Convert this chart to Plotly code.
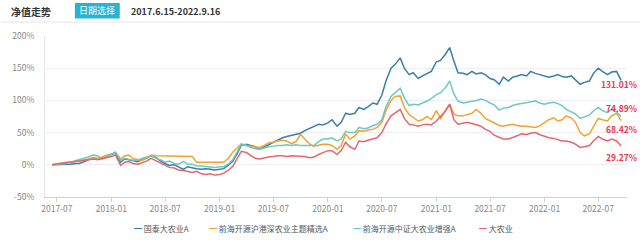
import pandas as pd
import plotly.graph_objects as go

# ---------------- data ----------------
series_names = ["国泰大农业A", "前海开源沪港深农业主题精选A", "前海开源中证大农业增强A", "大农业"]
end_labels = ["131.01%", "68.42%", "74.89%", "29.27%"]

# semi-monthly observation dates (1st & 15th), 2017-06-15 .. 2022-09-16
dates = list(pd.date_range("2017-06-15", "2022-09-15", freq="SMS").strftime("%Y-%m-%d"))
dates[-1] = "2022-09-16"

guotai = [
    0, 0, 0.5, 1, 1, 2, 2, 5, 8, 11, 9, 11, 14,
    16, 18, 4, 9, 8, 7, 5, 9, 12, 14, 11, 6, 2, -1, 0, -3, -7, -3, -5, -6, -7, -6, -7, -8,
    -7, -6, 0, 6, 17, 30, 32, 30, 28, 24, 28, 32, 36, 39, 42, 44, 46, 47, 49, 53, 57, 59, 63, 62,
    65, 70, 60, 66, 80, 78, 80, 89, 86, 90, 96, 94, 108, 130, 150, 156, 166, 150, 140, 143, 134, 138, 142, 145,
    160, 162, 172, 182, 161, 143, 142, 140, 145, 141, 143, 140, 134, 132, 125, 136, 130, 136, 138, 140, 138, 145, 142, 140,
    138, 136, 138, 140, 137, 136, 138, 132, 125, 128, 130, 142, 150, 145, 140, 144, 145, 131.01,
]
qianhai_hgs = [
    0, 2, 3, 4, 4, 5, 6, 7, 9, 11, 10, 12, 14,
    16, 19, 9, 14, 15, 10, 8, 7, 10, 15, 14, 14, 14, 14, 14, 14, 14, 13, 13, 4, 4, 3, 4, 3,
    3, 4, 11, 20, 26, 32, 30, 29, 29, 27, 30, 34, 35, 37, 38, 37, 33, 36, 47, 40, 32, 29, 31, 32,
    32, 30, 24, 30, 48, 40, 45, 53, 52, 54, 55, 58, 66, 84, 100, 106, 107, 89, 78, 74, 68, 70, 75, 70,
    84, 72, 85, 94, 79, 76, 76, 78, 80, 86, 80, 72, 68, 65, 61, 60, 62, 63, 61, 60, 60, 59, 58, 60,
    66, 70, 73, 68, 70, 76, 73, 66, 50, 45, 48, 60, 72, 70, 68, 76, 80, 68.42,
]
qianhai_zz = [
    0, 0.5, 1, 2, 4, 6, 8, 10, 12, 15, 14, 9, 12,
    16, 20, 7, 10, 9, 7, 8, 10, 12, 14, 10, 8, 4, 6, 2, 1, 5, 1, 1, -2, -2, -3, -3, -4,
    -3, -3, 2, 8, 20, 32, 30, 27, 25, 24, 26, 28, 29, 30, 30, 31, 30, 31, 30, 30, 31, 30, 36, 40,
    40, 42, 37, 40, 52, 50, 50, 58, 56, 57, 61, 63, 70, 90, 106, 112, 119, 104, 92, 94, 93, 96, 99, 103,
    109, 112, 120, 130, 110, 99, 96, 97, 98, 100, 102, 100, 96, 93, 85, 88, 89, 92, 94, 95, 97, 98, 99, 96,
    94, 96, 97, 95, 92, 86, 82, 79, 72, 74, 77, 84, 89, 84, 81, 86, 82, 74.89,
]
danongye = [
    0, 1, 2, 3, 4, 5, 5, 6, 7, 9, 8, 9, 11,
    13, 15, -1, 4, 5, 2, 1, 3, 6, 10, 6, 2, -1, -4, -5, -8, -9, -10, -12, -10, -14, -15, -14, -16,
    -15, -13, -8, -2, 10, 21, 19, 15, 10, 9, 11, 12, 13, 14, 14, 13, 14, 14, 14, 13, 11, 12, 16, 19,
    22, 22, 16, 22, 35, 28, 24, 37, 36, 38, 40, 42, 50, 63, 76, 80, 86, 72, 63, 62, 60, 62, 63, 62,
    68, 75, 84, 94, 70, 63, 64, 66, 64, 62, 60, 55, 52, 46, 42, 40, 40, 42, 45, 48, 47, 49, 50, 47,
    44, 42, 41, 39, 37, 37, 35, 32, 27, 28, 30, 37, 44, 40, 37, 40, 37, 29.27,
]
values = [guotai, qianhai_hgs, qianhai_zz, danongye]

x_tick_vals = ["2017-07-01", "2018-01-01", "2018-07-01", "2019-01-01", "2019-07-01", "2020-01-01",
               "2020-07-01", "2021-01-01", "2021-07-01", "2022-01-01", "2022-07-01"]
x_tick_text = ["2017-07", "2018-01", "2018-07", "2019-01", "2019-07", "2020-01",
               "2020-07", "2021-01", "2021-07", "2022-01", "2022-07"]
y_tick_vals = [-50, 0, 50, 100, 150, 200]
y_tick_text = ["-50%", "0%", "50%", "100%", "150%", "200%"]

title_text = "净值走势"
button_text = "日期选择"
period_text = "2017.6.15-2022.9.16"

# ---------------- style ----------------
colors = ["#3a7fa8", "#f2a234", "#6ccac0", "#e4676f"]
label_color = "#e8364c"
label_yshift = [-4, -8, 9, -11]
FONT = "Noto Sans CJK SC"

W_PX, H_PX = 640, 241
L, R, T, B = 43, 13, 35.5, 44
PW, PH = W_PX - L - R, H_PX - T - B


def px(xp):
    return (xp - L) / PW


def py(yp):
    return (T + PH - yp) / PH


fig = go.Figure()
for name, vals, col in zip(series_names, values, colors):
    fig.add_trace(go.Scatter(x=dates, y=vals, mode="lines", name=name,
                             line=dict(color=col, width=1.5), showlegend=False))

annotations = []
# end value labels
for i, (vals, lab) in enumerate(zip(values, end_labels)):
    annotations.append(dict(x=dates[-1], y=vals[-1], xref="x", yref="y", text="<b>" + lab + "</b>",
                            showarrow=False, xanchor="right", yanchor="middle", xshift=18,
                            yshift=label_yshift[i], font=dict(family=FONT, size=8.5, color=label_color)))

# custom legend
legend_x = [130, 206, 350, 476]
for name, col, lx in zip(series_names, colors, legend_x):
    annotations.append(dict(x=px(lx), y=py(229), xref="paper", yref="paper",
                            text='<span style="color:%s">━</span> %s' % (col, name),
                            showarrow=False, xanchor="left", yanchor="middle",
                            font=dict(family=FONT, size=8, color="#555555")))

# header
annotations.append(dict(x=px(7), y=py(10.5), xref="paper", yref="paper", text="<b>" + title_text + "</b>",
                        showarrow=False, xanchor="left", yanchor="middle",
                        font=dict(family=FONT, size=10, color="#333333")))
annotations.append(dict(x=px(95.5), y=py(10), xref="paper", yref="paper", text=button_text,
                        showarrow=False, xanchor="center", yanchor="middle",
                        font=dict(family=FONT, size=9, color="#ffffff")))
annotations.append(dict(x=px(127), y=py(10.5), xref="paper", yref="paper", text="<b>" + period_text + "</b>",
                        showarrow=False, xanchor="left", yanchor="middle",
                        font=dict(family=FONT, size=9, color="#333333")))

shapes = [
    dict(type="rect", xref="paper", yref="paper", x0=px(73), x1=px(118), y0=py(18), y1=py(2.5),
         fillcolor="#27b3d1", line=dict(width=0), layer="above"),
    dict(type="line", xref="paper", yref="paper", x0=px(0), x1=px(640), y0=py(21.5), y1=py(21.5),
         line=dict(color="#e6e6e6", width=1)),
]

fig.update_layout(
    width=W_PX, height=H_PX,
    margin=dict(l=L, r=R, t=T, b=B),
    paper_bgcolor="white", plot_bgcolor="white",
    font=dict(family=FONT, size=8.5, color="#888888"),
    annotations=annotations, shapes=shapes,
    showlegend=False,
)
fig.update_xaxes(type="date", range=["2017-05-22", "2022-10-06"],
                 tickvals=x_tick_vals, ticktext=x_tick_text,
                 showgrid=False, showline=True, linecolor="#ccd1dc", linewidth=1,
                 ticks="outside", ticklen=4, tickcolor="#ccd1dc",
                 tickfont=dict(family=FONT, size=8.5, color="#888888"), zeroline=False)
fig.update_yaxes(range=[-50, 200], tickvals=y_tick_vals, ticktext=y_tick_text,
                 showgrid=True, gridcolor="#eceef4", gridwidth=1,
                 showline=True, linecolor="#e3e6ee", zeroline=False,
                 ticklabelstandoff=8,
                 tickfont=dict(family=FONT, size=8.5, color="#888888"))

fig.write_html("out.html")
